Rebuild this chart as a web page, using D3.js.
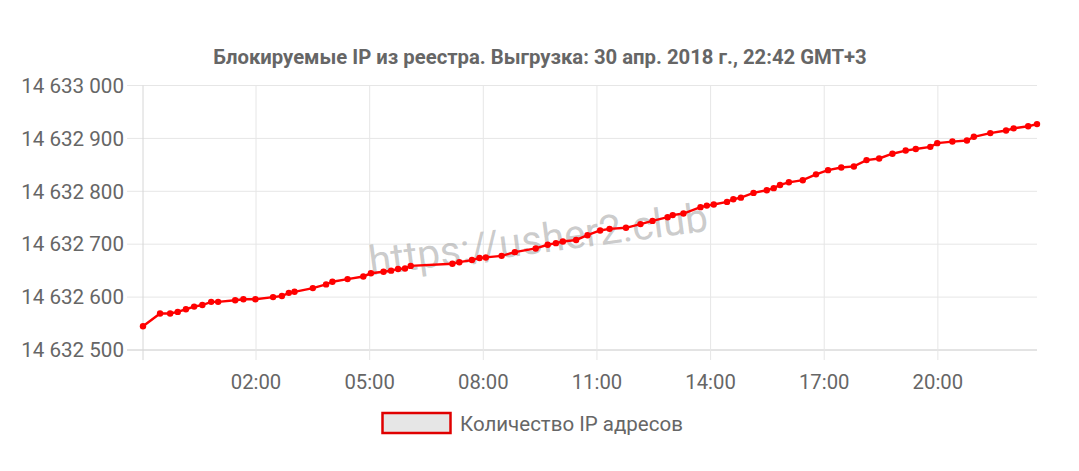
<!DOCTYPE html>
<html><head><meta charset="utf-8">
<script src="https://cdn.jsdelivr.net/npm/d3@7"></script>
<style>body{margin:0;background:#fff;} text{font-family:Roboto,"Noto Sans",sans-serif;}</style>
</head><body><svg id="c" width="1079" height="471"></svg>
<script>
const title = "Блокируемые IP из реестра. Выгрузка: 30 апр. 2018 г., 22:42 GMT+3";
const seriesName = "Количество IP адресов";
const watermark = "https://usher2.club";
const times = [
"2018-04-29 23:01","2018-04-29 23:28","2018-04-29 23:44","2018-04-29 23:56",
"2018-04-30 00:09","2018-04-30 00:22","2018-04-30 00:35","2018-04-30 00:49","2018-04-30 01:00",
"2018-04-30 01:27","2018-04-30 01:40","2018-04-30 01:59","2018-04-30 02:27","2018-04-30 02:41",
"2018-04-30 02:52","2018-04-30 03:01","2018-04-30 03:30","2018-04-30 03:51","2018-04-30 04:01",
"2018-04-30 04:25","2018-04-30 04:50","2018-04-30 05:02","2018-04-30 05:22","2018-04-30 05:34",
"2018-04-30 05:45","2018-04-30 05:56","2018-04-30 06:05","2018-04-30 07:11","2018-04-30 07:22",
"2018-04-30 07:42","2018-04-30 07:54","2018-04-30 08:04","2018-04-30 08:29","2018-04-30 08:50",
"2018-04-30 09:23","2018-04-30 09:42","2018-04-30 09:55","2018-04-30 10:06","2018-04-30 10:27",
"2018-04-30 10:45","2018-04-30 11:05","2018-04-30 11:20","2018-04-30 11:46","2018-04-30 12:09",
"2018-04-30 12:28","2018-04-30 12:52","2018-04-30 13:00","2018-04-30 13:17","2018-04-30 13:44",
"2018-04-30 13:54","2018-04-30 14:05","2018-04-30 14:26","2018-04-30 14:36","2018-04-30 14:48",
"2018-04-30 15:08","2018-04-30 15:29","2018-04-30 15:40","2018-04-30 15:50","2018-04-30 16:04",
"2018-04-30 16:26","2018-04-30 16:47","2018-04-30 17:06","2018-04-30 17:27","2018-04-30 17:47",
"2018-04-30 18:07","2018-04-30 18:27","2018-04-30 18:48","2018-04-30 19:09","2018-04-30 19:25",
"2018-04-30 19:48","2018-04-30 19:59","2018-04-30 20:23","2018-04-30 20:46","2018-04-30 20:57",
"2018-04-30 21:23","2018-04-30 21:48","2018-04-30 22:00","2018-04-30 22:23","2018-04-30 22:37"];
const values = [
14632545,14632569,14632569,14632572,
14632577,14632582,14632585,14632591,14632591,
14632594,14632596,14632596,14632600,14632602,
14632608,14632610,14632617,14632624,14632629,
14632634,14632639,14632645,14632648,14632650,
14632653,14632654,14632659,14632663,14632666,
14632670,14632674,14632675,14632678,14632685,
14632692,14632699,14632702,14632705,14632708,
14632717,14632726,14632729,14632731,14632738,
14632744,14632751,14632755,14632758,14632770,
14632773,14632775,14632780,14632785,14632788,
14632797,14632802,14632806,14632812,14632817,
14632821,14632832,14632840,14632845,14632847,
14632859,14632862,14632871,14632877,14632880,
14632884,14632891,14632894,14632896,14632903,
14632910,14632915,14632919,14632923,14632927];
const yTicks = [14632500,14632600,14632700,14632800,14632900,14633000];
const xTickLabels = ["02:00","05:00","08:00","11:00","14:00","17:00","20:00"];

const parse = d3.utcParse("%Y-%m-%d %H:%M");
const data = times.map((t,i)=>({t:parse(t), v:values[i]}));
const L=143, R=1037, T=85.5, B=350;
const svg = d3.select("#c");
const x = d3.scaleUtc().domain(d3.extent(data,d=>d.t)).range([L,R]);
const y = d3.scaleLinear().domain([yTicks[0], yTicks[yTicks.length-1]]).range([B,T]);
const loc = d3.formatLocale({decimal:",", thousands:"\u00a0", grouping:[3], currency:["",""]});
const fmt = loc.format(",d");
const fmtT = d3.utcFormat("%H:%M");
const xTicks = d3.utcHour.range(x.domain()[0], x.domain()[1]).filter(d=>xTickLabels.includes(fmtT(d)));

// horizontal grid
svg.append("g").selectAll("line").data(yTicks).join("line")
  .attr("x1",L-16).attr("x2",R).attr("y1",d=>y(d)).attr("y2",d=>y(d))
  .attr("stroke",(d,i)=>i===0?"#c8c8c8":"#e6e6e6").attr("stroke-width",1);
// vertical grid
svg.append("g").selectAll("line").data([x.domain()[0]].concat(xTicks)).join("line")
  .attr("x1",d=>x(d)).attr("x2",d=>x(d)).attr("y1",T).attr("y2",B+10)
  .attr("stroke",(d,i)=>i===0?"#d6d6d6":"#e6e6e6").attr("stroke-width",1);

// y labels
svg.append("g").selectAll("text").data(yTicks).join("text")
  .attr("x",L-19).attr("y",d=>y(d)).attr("dy","0.35em").attr("text-anchor","end")
  .attr("font-size",20.6).attr("fill","#666").text(d=>fmt(d));
// x labels
svg.append("g").selectAll("text").data(xTicks).join("text")
  .attr("x",d=>x(d)).attr("y",388.5).attr("text-anchor","middle")
  .attr("font-size",20.3).attr("fill","#666").text(d=>fmtT(d));

// title
svg.append("text").attr("x",540).attr("y",64).attr("text-anchor","middle")
  .attr("font-size",20.3).attr("font-weight","bold").attr("fill","#666").text(title);

// watermark
svg.append("text").attr("x",540).attr("y",253).attr("text-anchor","middle")
  .attr("transform","rotate(-7.5,540,253)")
  .attr("font-size",40.5).attr("fill","rgba(140,140,140,0.45)").text(watermark);

// line
const line = d3.line().x(d=>x(d.t)).y(d=>y(d.v));
svg.append("path").datum(data).attr("d",line).attr("fill","none")
  .attr("stroke","#ff0000").attr("stroke-width",2.4);
svg.append("g").selectAll("circle").data(data).join("circle")
  .attr("cx",d=>x(d.t)).attr("cy",d=>y(d.v)).attr("r",3.2).attr("fill","#ff0000");

// legend
svg.append("rect").attr("x",382.5).attr("y",413).attr("width",68).attr("height",20)
  .attr("fill","#e6e6e6").attr("stroke","#e00000").attr("stroke-width",2.5);
svg.append("text").attr("x",460).attr("y",430.5).attr("font-size",20.5).attr("fill","#666").text(seriesName);
</script></body></html>
